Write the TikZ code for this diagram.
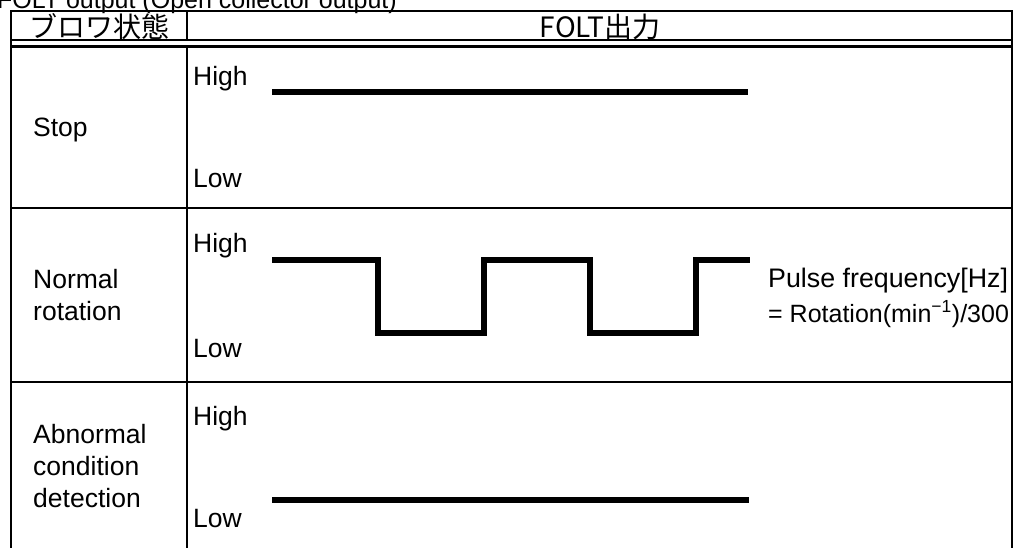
\documentclass[tikz,border=0pt]{standalone}
\usepackage{fontspec}
\setmainfont{Liberation Sans}
\newfontfamily\jp{Noto Sans CJK JP}
\begin{document}
\begin{tikzpicture}[x=1pt,y=-1pt,
  grid/.style={line width=2.2pt},
  wave/.style={line width=5.2pt, line join=miter},
  lbl/.style={font=\fontsize{26.5}{32}\selectfont, inner sep=0pt, anchor=base west},
  small/.style={font=\fontsize{25}{30}\selectfont, inner sep=0pt, anchor=base west},
  head/.style={font=\jp\fontsize{28}{32}\selectfont, inner sep=0pt}]
\clip (0,0) rectangle (1014,547);
\fill[white] (0,0) rectangle (1014,547);
% title (cut off at the top, as in the reference)
\node[anchor=base east, font=\fontsize{25}{28}\selectfont, inner sep=0pt] (title) at (397,8) {FOLT output (Open collector output)};
% table
\draw[grid] (11,11) -- (1012,11);
\draw[grid] (11,10) -- (11,560);
\draw[grid] (1012,10) -- (1012,560);
\draw[grid] (187,11) -- (187,40);
\draw[grid] (187,46.5) -- (187,560);
\draw[grid] (11,40) -- (1012,40);
\draw[grid] (11,46.5) -- (1012,46.5);
\draw[grid] (11,208) -- (1012,208);
\draw[grid] (11,382) -- (1012,382);
% header
\node[head] (h1) at (99,27) {ブロワ状態};
\node[head] (h2) at (600,27) {FOLT出力};
% row labels
\node[lbl] (stop) at (33,136) {Stop};
\node[lbl] (nr1) at (33,288) {Normal};
\node[lbl] (nr2) at (33,320) {rotation};
\node[lbl] (ab1) at (33,443) {Abnormal};
\node[lbl] (ab2) at (33,475) {condition};
\node[lbl] (ab3) at (33,507) {detection};
% High / Low
\node[lbl] (hi1) at (193,85) {High};
\node[lbl] (lo1) at (193,187) {Low};
\node[lbl] (hi2) at (193,252) {High};
\node[lbl] (lo2) at (193,357) {Low};
\node[lbl] (hi3) at (193,425) {High};
\node[lbl] (lo3) at (193,527) {Low};
% pulse note
\node[lbl, font=\fontsize{26.8}{32}\selectfont] (pf) at (768,287) {Pulse frequency[Hz]};
\node[small] (rot) at (768,322) {= Rotation(min\textsuperscript{−1})/300};
% waveforms
\draw[wave] (272,92) -- (748,92);
\draw[wave] (272,260) -- (378,260) -- (378,333) -- (484,333) -- (484,260) -- (590,260) -- (590,333) -- (696,333) -- (696,260) -- (750,260);
\draw[wave] (272,500) -- (749,500);
\end{tikzpicture}
\end{document}
